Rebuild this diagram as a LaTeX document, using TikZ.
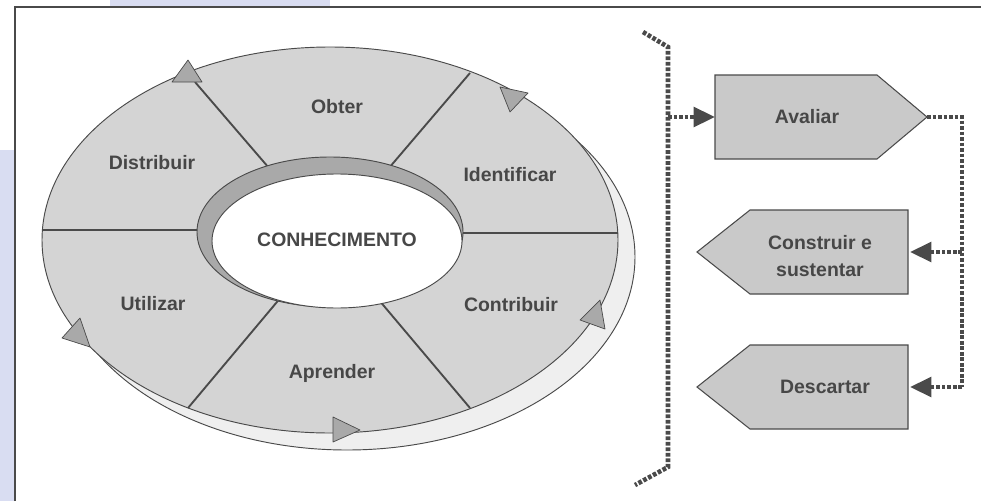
\documentclass[tikz,border=0pt]{standalone}
\usepackage{fontspec}
\setmainfont{Liberation Sans}
\usetikzlibrary{arrows.meta}

\definecolor{ringgray}{HTML}{D4D4D4}
\definecolor{shadegray}{HTML}{EFEFEF}
\definecolor{holegray}{HTML}{A9A9A9}
\definecolor{boxgray}{HTML}{C9C9C9}
\definecolor{linegray}{HTML}{4A4A4A}
\definecolor{txtgray}{HTML}{474747}
\definecolor{scanblue}{HTML}{D9DDF2}

\begin{document}
\begin{tikzpicture}[x=0.03cm, y=-0.03cm,
  lbl/.style={font=\bfseries\fontsize{16.6}{23.5}\selectfont, text=txtgray, align=center},
  ring/.style={draw=linegray, line width=0.8pt},
  cut/.style={draw=linegray, line width=1.6pt},
  turn/.style={draw=linegray, fill=holegray, line width=0.6pt, line join=round},
  stepbox/.style={draw=linegray, fill=boxgray, line width=0.9pt},
  dots/.style={draw=linegray, line width=3.9pt, dash pattern=on 3.2pt off 1.5pt},
  tip/.style={-{Triangle[length=0.64cm, width=0.58cm]}}]
  \useasboundingbox (0,0) rectangle (981,501);
  % scan margins
  \fill[scanblue] (0,150) rectangle (15,501);
  \fill[scanblue] (110,0) rectangle (330,6);
  \draw[linegray, line width=1.6pt] (15,501) -- (15,7) -- (981,7);

  % cycle ring
  \filldraw[ring, fill=shadegray] (347,257) ellipse [x radius=288, y radius=193];
  \filldraw[ring, fill=ringgray] (330,240) ellipse [x radius=288, y radius=193];
  \draw[cut] (275,175) -- (195,82);
  \draw[cut] (383,175) -- (470,73);
  \draw[cut] (440,233) -- (618,233);
  \draw[cut] (42,230) -- (220,230);
  \draw[cut] (287,290) -- (188,408);
  \draw[cut] (373,293) -- (470,408);
  \filldraw[ring, fill=holegray] (330,232) ellipse [x radius=133, y radius=75];
  \filldraw[ring, fill=white] (337,241) ellipse [x radius=125, y radius=67];

  % turning marks
  \filldraw[turn] (188,60) -- (172,82) -- (202,82) -- cycle;
  \filldraw[turn] (500,87) -- (528,93) -- (510,112) -- cycle;
  \filldraw[turn] (580,320) -- (600,300) -- (605,329) -- cycle;
  \filldraw[turn] (333,417) -- (360,430) -- (333,442) -- cycle;
  \filldraw[turn] (80,318) -- (62,338) -- (90,347) -- cycle;

  \node[lbl] (know) at (337,240) {CONHECIMENTO};
  \node[lbl] (obter) at (337,107) {Obter};
  \node[lbl] (ident) at (510,175) {Identificar};
  \node[lbl] (contrib) at (511,305) {Contribuir};
  \node[lbl] (aprend) at (332,373) {Aprender};
  \node[lbl] (util) at (153,304) {Utilizar};
  \node[lbl] (distr) at (152,163) {Distribuir};

  % steps
  \filldraw[stepbox] (715,75) -- (877,75) -- (927,117) -- (877,159) -- (715,159) -- cycle;
  \filldraw[stepbox] (908,210) -- (750,210) -- (697,252) -- (750,294) -- (908,294) -- cycle;
  \filldraw[stepbox] (908,345) -- (750,345) -- (697,387) -- (750,429) -- (908,429) -- cycle;
  \node[lbl] (aval) at (807,117) {Avaliar};
  \node[lbl] (build) at (820,256) {Construir e\\sustentar};
  \node[lbl] (drop) at (825,387) {Descartar};
  \coordinate (avalW) at (715,117);
  \coordinate (avalE) at (927,117);
  \coordinate (buildE) at (910,252);
  \coordinate (dropE) at (910,387);
  \coordinate (brace) at (668,117);
  \coordinate (fork) at (962,117);

  % flow
  \draw[dots] (643,32) -- (668,47) -- (668,467) -- (635,485);
  \draw[dots, tip] (brace) -- (avalW);
  \draw[dots] (avalE) -- (fork) -- (fork |- dropE);
  \draw[dots, tip] (fork |- buildE) -- (buildE);
  \draw[dots, tip] (fork |- dropE) -- (dropE);
\end{tikzpicture}
\end{document}
